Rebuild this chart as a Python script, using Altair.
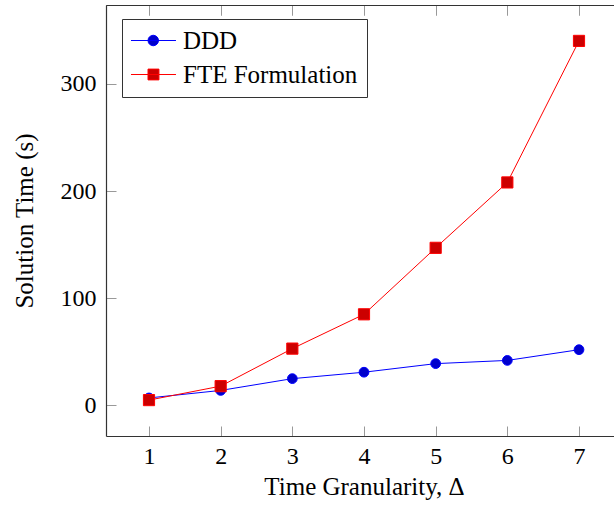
import altair as alt
import pandas as pd

# ---- data ----
delta = [1, 2, 3, 4, 5, 6, 7]
ddd_time = [7, 14, 25, 31, 39, 42, 52]
fte_time = [5, 18, 53, 85, 147, 208, 340]
series_names = ["DDD", "FTE Formulation"]
x_ticks = [1, 2, 3, 4, 5, 6, 7]
y_ticks = [0, 100, 200, 300]
x_title = "Time Granularity, Δ"
y_title = "Solution Time (s)"

# ---- styling ----
line_colors = ["#0000ff", "#ff0000"]
fill_colors = ["#0000cc", "#cc0000"]
point_shapes = ["circle", "square"]
point_sizes = [95, 125]
legend_paths = [
    "M-1.67,0L4.33,0M2,0A0.7,0.7,0,1,1,0.6,0A0.7,0.7,0,1,1,2,0Z",
    "M-1.67,0L4.33,0M0.6,-0.72L2.06,-0.72L2.06,0.72L0.6,0.72Z",
]
FONT = "Liberation Serif"
FRAME = "#333333"
TICK = "#999999"
TICK_LEN = 10

rows = []
for name, vals in zip(series_names, [ddd_time, fte_time]):
    for d, v in zip(delta, vals):
        rows.append({"delta": d, "time": v, "series": name})
df = pd.DataFrame(rows)

x_scale = alt.Scale(domain=[0.4, 7.6], nice=False, zero=False)
y_scale = alt.Scale(domain=[-28.5, 373.5], nice=False, zero=False)
fill_scale = alt.Scale(domain=series_names, range=fill_colors)
stroke_scale = alt.Scale(domain=series_names, range=line_colors)

shape_expr = "datum.value === '%s' ? '%s' : '%s'" % (
    series_names[0], legend_paths[0], legend_paths[1])


def build(expr_tick=True, expr_legend=True, right_pad=-8):
    if expr_tick:
        tsize = alt.ExprRef(expr="-%d" % TICK_LEN)
        extra = 2 * TICK_LEN
    else:
        tsize = TICK_LEN
        extra = 0
    common = dict(grid=False, domainWidth=1.2, domainColor=FRAME,
                  tickColor=TICK, tickWidth=1, tickSize=tsize,
                  labelFont=FONT, labelFontSize=24, labelColor="black",
                  titleFont=FONT, titleFontSize=25, titleFontWeight="normal",
                  titleColor="black")
    x_bottom = alt.Axis(**dict(common, values=x_ticks, title=x_title,
                               orient="bottom", labelPadding=-2 + extra,
                               titlePadding=6))
    x_top = alt.Axis(**dict(common, values=x_ticks, title=None, orient="top",
                            labels=False))
    y_left = alt.Axis(**dict(common, values=y_ticks, title=y_title,
                             orient="left", labelPadding=0 + extra,
                             titlePadding=23))

    lg = dict(title=None, orient="none", legendX=16, legendY=14,
              direction="vertical", fillColor="white", strokeColor=FRAME,
              padding=9, rowPadding=8, labelFont=FONT, labelFontSize=25,
              labelColor="black", labelOffset=27, labelLimit=400,
              symbolSize=225, symbolStrokeWidth=1, symbolOpacity=1)
    if expr_legend:
        lg["symbolType"] = alt.ExprRef(expr=shape_expr)
    legend = alt.Legend(**lg)

    base = alt.Chart(df)
    line = base.mark_line(strokeWidth=1, opacity=1).encode(
        x=alt.X("delta:Q", scale=x_scale, axis=x_bottom),
        y=alt.Y("time:Q", scale=y_scale, axis=y_left),
        stroke=alt.Stroke("series:N", scale=stroke_scale, legend=legend),
    )
    layers = [line]
    for i, name in enumerate(series_names):
        pts = base.transform_filter(alt.datum.series == name).mark_point(
            filled=True, opacity=1, strokeWidth=1,
            shape=point_shapes[i], size=point_sizes[i],
        ).encode(
            x=alt.X("delta:Q", scale=x_scale, axis=x_top),
            y=alt.Y("time:Q", scale=y_scale, axis=y_left),
            fill=alt.Fill("series:N", scale=fill_scale, legend=legend),
            stroke=alt.Stroke("series:N", scale=stroke_scale, legend=legend),
        )
        layers.append(pts)

    chart = alt.layer(*layers).resolve_axis(x="independent").properties(
        width=508 - right_pad, height=431,
        autosize=alt.AutoSizeParams(type="none"),
        padding={"left": 106, "top": 5, "right": right_pad, "bottom": 70},
        background="white",
    ).configure_view(stroke="transparent")
    return chart


chart = None
for opts in [(True, True, -8), (True, True, 0), (False, True, 0),
             (True, False, 0), (False, False, 0)]:
    try:
        c = build(*opts)
        c.to_dict()
        chart = c
        break
    except Exception as e:
        continue

chart.save("out.html", embed_options={"renderer": "svg", "actions": False})
